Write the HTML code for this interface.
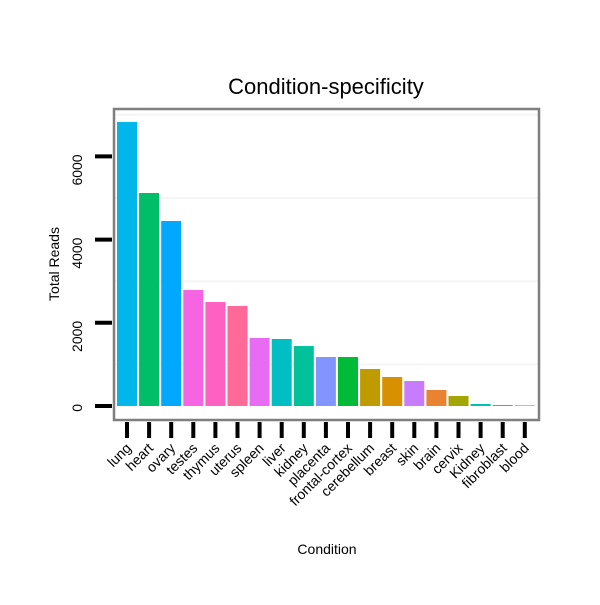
<!DOCTYPE html>
<html><head><meta charset="utf-8"><style>
body{margin:0;background:#fff}
text{font-family:"Liberation Sans",sans-serif}
</style></head><body>
<svg id="c" width="600" height="600" xmlns="http://www.w3.org/2000/svg">
<rect width="600" height="600" fill="#fff"/>
<text x="326" y="94" font-size="22" text-anchor="middle">Condition-specificity</text>
<text transform="translate(59,264) rotate(-90)" font-size="14" text-anchor="middle">Total Reads</text>
<text x="327" y="554" font-size="14" text-anchor="middle">Condition</text>
<g id="grid"></g><g id="bars"></g><g id="axes"></g>
<rect x="114" y="109" width="425" height="311" fill="none" stroke="#7f7f7f" stroke-width="2.5"/>
</svg>
<script>
const categories=["lung","heart","ovary","testes","thymus","uterus","spleen","liver","kidney","placenta","frontal-cortex","cerebellum","breast","skin","brain","cervix","Kidney","fibroblast","blood"];
const values=[6827,5120,4447,2788,2500,2404,1635,1611,1442,1178,1178,889,697,601,385,240,48,24,16];
const colors=["#00b6eb","#00be67","#00a9ff","#f564e3","#ff61c3","#ff6a98","#e76bf3","#00bfc4","#00c19a","#8494ff","#00ba38","#c09b00","#d89000","#c77cff","#ea8331","#a3a500","#00c0b8","#7cae00","#f8766d"];
const yTicks=[0,2000,4000,6000];
const gridVals=[1000,3000,5000,7000];
const NS="http://www.w3.org/2000/svg";
const y=v=>406-v*(83.2/2000);
const step=22.1, x0=117, bw=20;
const x=i=>x0+i*step;
function mk(t,a,p){const e=document.createElementNS(NS,t);for(const k in a)e.setAttribute(k,a[k]);p.appendChild(e);return e;}
const G=document.getElementById('grid'),B=document.getElementById('bars'),A=document.getElementById('axes');
gridVals.forEach(v=>{const l=mk('line',{x1:115,x2:538,y1:y(v),y2:y(v),stroke:'#f5f5f5','stroke-width':2},G);

});
values.forEach((v,i)=>{const r=mk('rect',{x:x(i),y:y(v),width:bw,height:406-y(v),fill:colors[i]},B);


const cx=x(i)+bw/2;
const t=mk('line',{x1:cx,x2:cx,y1:422,y2:438,stroke:'#000','stroke-width':4},A);


const lb=mk('text',{transform:`translate(${cx+5},449) rotate(-45)`,'font-size':14,'text-anchor':'end'},A);
lb.textContent=categories[i];

});
yTicks.forEach(v=>{const t=mk('line',{x1:95,x2:112,y1:y(v),y2:y(v),stroke:'#000','stroke-width':4},A);


const lb=mk('text',{transform:`translate(82,${y(v)-2}) rotate(-90)`,'font-size':14,'text-anchor':'end'},A);
lb.textContent=v;

});
</script>
</body></html>
